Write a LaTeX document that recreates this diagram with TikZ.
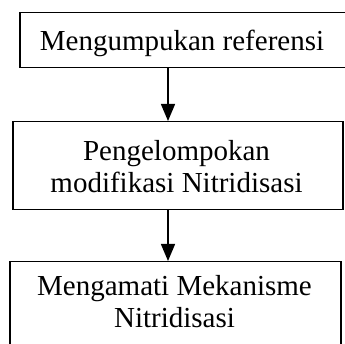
\documentclass[tikz,border=0pt]{standalone}
\usepackage{fontspec}
\setmainfont{Liberation Serif}
\usetikzlibrary{arrows.meta}
\begin{document}
\begin{tikzpicture}[x=1pt,y=-1pt,
  box/.style={draw=black,line width=1.5pt,inner sep=0pt,anchor=north west},
  txt/.style={inner sep=0pt,align=center,font=\fontsize{29}{32}\selectfont},
  arr/.style={line width=1.5pt,-{Triangle[length=17pt,width=14pt]}}]
\useasboundingbox (0,0) rectangle (345,344);
\clip (0,0) rectangle (345,344);
\fill[white] (0,0) rectangle (345,344);
\node[box,minimum width=331pt,minimum height=55pt] (b1) at (19,12) {};
\node[box,minimum width=330pt,minimum height=88pt] (b2) at (12,121) {};
\node[box,minimum width=331pt,minimum height=95pt] (b3) at (9,261) {};
\node[txt] (t1) at (182,43.4) {Mengumpukan referensi};
\node[txt] (t2) at (176.5,166.1) {Pengelompokan\\modifikasi Nitridisasi};
\node[txt] (t3) at (174.5,301.6) {Mengamati Mekanisme\\Nitridisasi};
\coordinate (ax) at (168,0);
\draw[arr] (b1.south -| ax) -- (b2.north -| ax);
\draw[arr] (b2.south -| ax) -- (b3.north -| ax);
\end{tikzpicture}
\end{document}
